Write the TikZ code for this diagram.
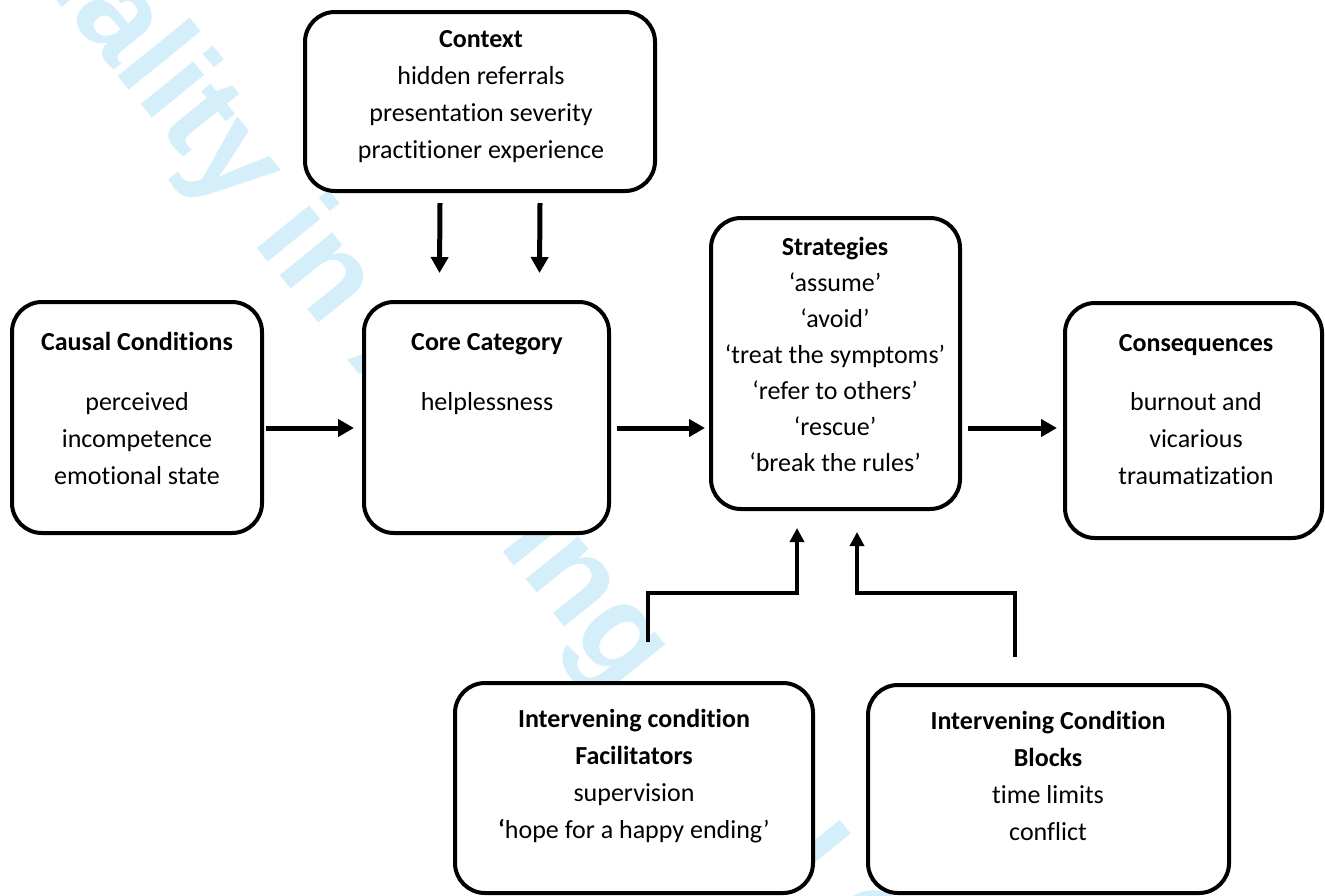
\documentclass[tikz,border=0pt]{standalone}
\usepackage{fontspec}
\setmainfont{Carlito}[Ligatures=NoCommon]
\newfontfamily\wmfont{Liberation Sans}
\usetikzlibrary{arrows.meta,calc}
\definecolor{wmcyan}{RGB}{212,238,250}
\newcommand\stack[1]{\begin{tabular}[t]{@{}c@{}}#1\end{tabular}}
\begin{document}
\begin{tikzpicture}[x=0.5pt,y=-0.5pt,
  box/.style={draw,line width=2pt,rounded corners=15pt,fill=white,inner sep=0pt,outer sep=0pt},
  txt/.style={inner sep=0pt,anchor=base,font=\fontsize{13}{18.5}\selectfont},
  arr/.style={line width=2.5pt,-{Triangle[width=8.5pt,length=8pt]}},
  elb/.style={line width=2pt,-{Triangle[width=7pt,length=7pt]}},
  wm/.style={text=wmcyan,font=\wmfont\bfseries\fontsize{64}{64}\selectfont,inner sep=0pt}]
\useasboundingbox (0,0) rectangle (1325,895);
\begin{scope}
\clip (0,0) rectangle (1325,895);
\node[wm,rotate=-51,anchor=base west] (wm) at (-44,-124) {Quality in Ageing and Older Adults};
\end{scope}
% boxes
\node[box,minimum width=175pt,minimum height=89.5pt] (ctx) at (480,101.5) {};
\node[box,minimum width=125pt,minimum height=115.5pt] (causal) at (137,417.5) {};
\node[box,minimum width=122.5pt,minimum height=115.5pt] (core) at (486.5,417.5) {};
\node[box,minimum width=124.5pt,minimum height=145.5pt] (strat) at (835.5,363.5) {};
\node[box,minimum width=128.5pt,minimum height=117.5pt] (cons) at (1193.5,420.5) {};
\node[box,minimum width=179pt,minimum height=105pt] (fac) at (634,788) {};
\node[box,minimum width=180.5pt,minimum height=104pt] (blk) at (1048.5,789) {};
% texts
\node[txt] (ctxT) at (481,47) {\stack{\textbf{Context}\\hidden referrals\\presentation severity\\practitioner experience}};
\node[txt] (causT) at (137,350) {\textbf{Causal Conditions}};
\node[txt] (causB) at (137,410) {\stack{perceived\\incompetence\\emotional state}};
\node[txt] (coreT) at (487,350) {\textbf{Core Category}};
\node[txt] (coreB) at (487,410) {helplessness};
\node[txt,font=\fontsize{13}{18}\selectfont] (stratT) at (835,255) {\stack{\textbf{Strategies}\\‘assume’\\‘avoid’\\‘treat the symptoms’\\‘refer to others’\\‘rescue’\\‘break the rules’}};
\node[txt] (consT) at (1196,351) {\textbf{Consequences}};
\node[txt] (consB) at (1196,410) {\stack{burnout and\\vicarious\\traumatization}};
\node[txt] (facT) at (634,727) {\stack{\textbf{Intervening condition}\\\textbf{Facilitators}\\supervision\\\textbf{‘}hope for a happy ending’}};
\node[txt] (blkT) at (1048,729) {\stack{\textbf{Intervening Condition}\\\textbf{Blocks}\\time limits\\conflict}};
% connectors
\draw[arr] ($(ctx.south)+(-40,12)$) -- ($(core.north)+(-47,-29)$);
\draw[arr] ($(ctx.south)+(60,12)$) -- ($(core.north)+(53,-29)$);
\draw[arr] ($(causal.east)+(4,10.5)$) -- ($(core.west)+(-10,10.5)$);
\draw[arr] ($(core.east)+(8,10.5)$) -- ($(strat.west)+(-6,64.5)$);
\draw[arr] ($(strat.east)+(8,64.5)$) -- ($(cons.west)+(-8,7.5)$);
\draw[elb] ($(fac.north)+(14,-41)$) |- ($(strat.south)+(-38.5,84)$) -- ($(strat.south)+(-38.5,19)$);
\draw[elb] ($(blk.north)+(-33.5,-28)$) |- ($(strat.south)+(21.5,84)$) -- ($(strat.south)+(21.5,23)$);
\end{tikzpicture}
\end{document}
